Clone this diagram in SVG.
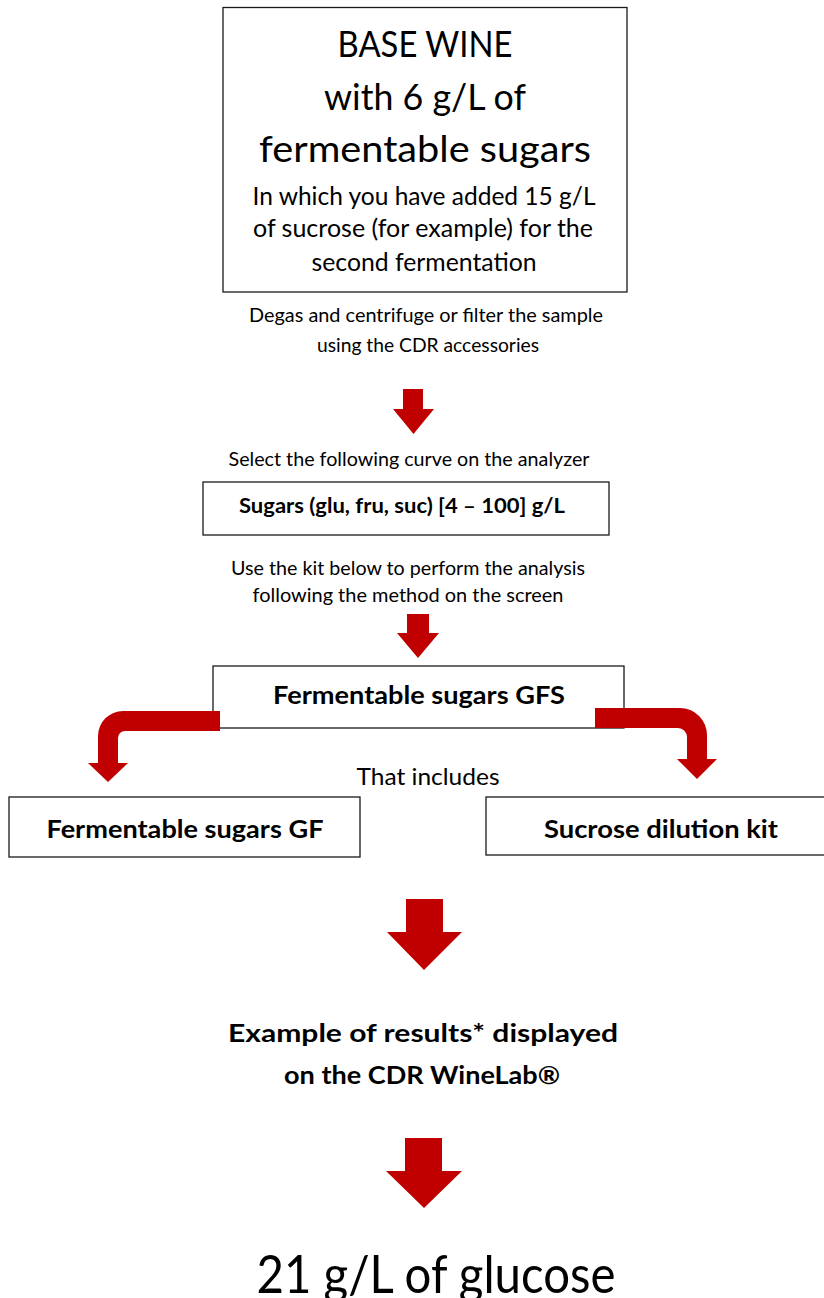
<svg xmlns="http://www.w3.org/2000/svg" width="824" height="1298" viewBox="0 0 824 1298">
<style>
text{font-family:Lato,"Open Sans","Liberation Sans",sans-serif;fill:#000;text-anchor:middle}
.b{font-weight:bold}
.s{font-size:20px}
.box{fill:#fff;stroke:#1a1a1a;stroke-width:1.3}
.arr{fill:#C00000}
</style>
<defs>
<filter id="soft" x="-10%" y="-10%" width="120%" height="120%"><feGaussianBlur stdDeviation="0.7"/></filter>
</defs>
<rect width="824" height="1298" fill="#fff"/>
<g id="base-wine">
<rect class="box" x="223" y="7.5" width="404" height="284.5"/>
<text x="425" y="57" font-size="36" textLength="175" lengthAdjust="spacingAndGlyphs">BASE WINE</text>
<text x="425" y="110" font-size="36" textLength="202" lengthAdjust="spacingAndGlyphs">with 6 g/L of</text>
<text x="425" y="162" font-size="37" textLength="332" lengthAdjust="spacingAndGlyphs">fermentable sugars</text>
<text x="424" y="205" font-size="24.5" textLength="343" lengthAdjust="spacingAndGlyphs">In which you have added 15 g/L</text>
<text x="423" y="237" font-size="24.5" textLength="340" lengthAdjust="spacingAndGlyphs">of sucrose (for example) for the</text>
<text x="424" y="271" font-size="24.5" textLength="225" lengthAdjust="spacingAndGlyphs">second fermentation</text>
</g>
<g id="degas">
<text class="s" x="426" y="322" textLength="354" lengthAdjust="spacingAndGlyphs">Degas and centrifuge or filter the sample</text>
<text class="s" x="428" y="352" textLength="222" lengthAdjust="spacingAndGlyphs">using the CDR accessories</text>
</g>
<g id="select">
<text class="s" x="409" y="466" textLength="361" lengthAdjust="spacingAndGlyphs">Select the following curve on the analyzer</text>
</g>
<g id="curve">
<rect class="box" x="203" y="482" width="406" height="53"/>
<text class="b" x="402" y="513" font-size="21" textLength="326" lengthAdjust="spacingAndGlyphs">Sugars (glu, fru, suc) [4 – 100] g/L</text>
</g>
<g id="use-kit">
<text class="s" x="408" y="575" textLength="354" lengthAdjust="spacingAndGlyphs">Use the kit below to perform the analysis</text>
<text class="s" x="408" y="602" textLength="311" lengthAdjust="spacingAndGlyphs">following the method on the screen</text>
</g>
<g id="gfs">
<rect class="box" x="213" y="666" width="411" height="62"/>
<text class="b" x="419" y="704" font-size="24" textLength="292" lengthAdjust="spacingAndGlyphs">Fermentable sugars GFS</text>
</g>
<g id="includes">
<text x="428" y="785" font-size="22.5" textLength="143" lengthAdjust="spacingAndGlyphs">That includes</text>
</g>
<g id="gf">
<rect class="box" x="9" y="797" width="351" height="60"/>
<text class="b" x="185" y="838" font-size="24" textLength="277" lengthAdjust="spacingAndGlyphs">Fermentable sugars GF</text>
</g>
<g id="sucrose">
<rect class="box" x="486" y="797" width="345" height="58"/>
<text class="b" x="661" y="838" font-size="24" textLength="234" lengthAdjust="spacingAndGlyphs">Sucrose dilution kit</text>
</g>
<g id="example">
<text class="b" x="423" y="1042" font-size="25.5" textLength="390" lengthAdjust="spacingAndGlyphs">Example of results* displayed</text>
<text class="b" x="422" y="1084" font-size="25.5" textLength="276" lengthAdjust="spacingAndGlyphs">on the CDR WineLab®</text>
</g>
<g id="result">
<text x="436" y="1293" font-size="52" textLength="359" lengthAdjust="spacingAndGlyphs">21 g/L of glucose</text>
</g>
<g id="connectors">
<path class="arr" d="M403,389 H423 V409 H434 L413.5,434 L393,409 H403 Z"/>
<path class="arr" d="M407,614 H429 V633 H439 L418,658 L397,633 H407 Z"/>
<path class="arr" d="M220,711 L123,711 A25,25 0 0 0 98,736 L98,763 L88,763 L108,782 L128,763 L118,763 L118,738 A7,7 0 0 1 125,731 L220,731 Z"/>
<path class="arr" d="M595,708 L680,708 A27,27 0 0 1 707,735 L707,759 L717,759 L697,779 L677,759 L687,759 L687,737 A9,9 0 0 0 678,728 L595,728 Z"/>
<path class="arr" filter="url(#soft)" d="M406,899 H443 V932 H462 L424,970 L387,932 H406 Z"/>
<path class="arr" filter="url(#soft)" d="M405,1138 H442 V1171 H462 L424,1208 L386,1171 H405 Z"/>
</g>
</svg>
